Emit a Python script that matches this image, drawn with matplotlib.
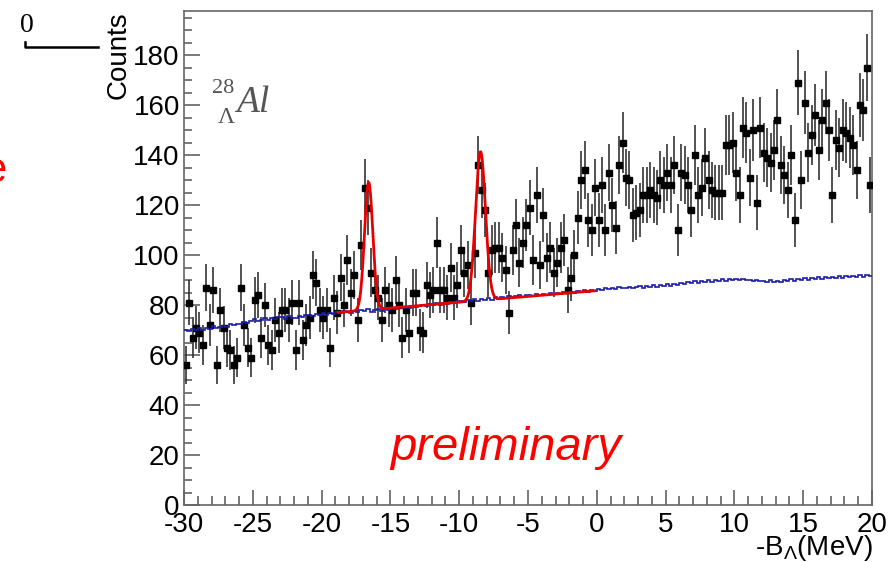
import numpy as np
import matplotlib
matplotlib.use("Agg")
import matplotlib.pyplot as plt
from matplotlib.lines import Line2D
from matplotlib.ticker import MultipleLocator

plt.rcParams['font.family'] = ['Liberation Sans', 'DejaVu Sans']
plt.rcParams['axes.unicode_minus'] = False
plt.rcParams['mathtext.default'] = 'regular'

# histogram: 200 bins of 0.25 MeV from -30 to 20
x_lo, x_hi, bin_w = -30.0, 20.0, 0.25

counts = [
    56, 81, 67, 71, 69, 64, 87, 72, 86, 56, 78, 71, 63, 62, 56, 59, 87, 72, 63, 59,
    82, 84, 67, 80, 64, 62, 74, 69, 78, 78, 74, 81, 62, 81, 66, 72, 75, 92,
    89, 78, 75, 78, 63, 83, 77, 91, 80, 98, 85, 92, 74, 104, 127, 119, 93, 86, 83, 74,
    86, 80, 78, 90, 80, 67, 78, 69, 85, 85, 70, 69, 88, 84, 86, 105, 86, 86, 83, 95,
    83, 88,
    102, 93, 96, 81, 101, 136, 126, 118, 93, 102, 103, 103, 99, 94, 77, 102, 112, 97,
    105, 112, 119, 98, 124, 96, 116, 99, 103, 93, 97, 103, 106, 86, 91, 100, 115, 130,
    134, 114, 110, 127,
    114, 128, 110, 133, 120, 111, 136, 145, 131, 130, 116, 117, 118, 124, 124, 126, 124,
    123, 130, 128, 133, 128, 136, 110, 133, 132, 128, 118, 140, 124, 127, 139, 130, 126,
    125, 125, 125, 144, 144,
    145, 133, 124, 151, 149, 131, 150, 121, 151, 141, 139, 137, 142, 154, 136, 132, 126,
    140, 114, 169, 130, 161, 141, 148, 156, 142, 154, 161, 150, 124, 146, 143, 150, 149,
    147, 144, 134, 160, 158, 175, 128,
]

# blue background histogram (same binning), 4 bins per MeV
background = [
    70.2, 69.6, 70.5, 70.0,  70.8, 70.1, 71.0, 70.4,  71.5, 70.7, 71.3, 71.6,
    71.4, 72.3, 71.9, 72.6,  72.5, 73.4, 72.8, 73.7,  74.4, 73.6, 74.2, 74.8,
    74.1, 75.0, 74.3, 75.2,  75.4, 74.6, 75.5, 74.9,  75.0, 75.7, 75.1, 75.9,
    76.2, 75.5, 76.3, 76.0,  76.8, 76.1, 77.0, 76.6,  77.3, 76.7, 77.5, 77.1,
    77.0, 77.8, 77.2, 78.1,  77.6, 78.3, 77.4, 78.0,  78.4, 77.8, 78.6, 78.2,
    78.9, 78.3, 79.2, 78.7,  79.4, 78.8, 79.6, 79.1,  79.8, 80.2, 79.5, 80.4,
    80.0, 80.7, 80.2, 81.0,  80.6, 81.3, 80.9, 81.5,  81.8, 81.1, 82.0, 81.6,
    82.3, 81.7, 82.6, 82.1,  82.8, 82.2, 83.1, 82.6,  83.3, 82.8, 83.6, 83.1,
    83.5, 84.0, 83.4, 84.2,  84.0, 83.6, 84.4, 84.1,  84.6, 84.1, 84.8, 84.3,
    85.0, 84.5, 85.2, 84.8,  85.4, 85.0, 85.7, 85.2,  85.9, 85.4, 86.2, 85.8,
    86.6, 86.0, 86.8, 86.3,  87.0, 86.5, 87.2, 86.7,  86.9, 87.4, 86.8, 87.3,
    87.6, 87.0, 87.8, 87.2,  87.9, 87.3, 88.1, 87.6,  88.4, 87.8, 88.6, 88.0,
    89.0, 88.4, 89.2, 88.7,  89.5, 89.0, 89.8, 89.3,  89.9, 89.3, 90.2, 89.7,
    90.3, 89.8, 90.5, 90.0,  90.6, 90.0, 90.4, 89.9,  90.2, 89.6, 90.1, 89.5,
    89.8, 89.2, 89.9, 89.4,  89.7, 89.1, 89.9, 89.6,  90.3, 89.8, 90.5, 90.0,
    90.8, 90.2, 90.9, 90.4,  91.1, 90.5, 91.2, 90.7,  91.3, 90.8, 91.5, 91.0,
    91.6, 91.1, 91.8, 91.3,  91.9, 91.4, 92.0, 91.6,
]

# fit: linear background + two gaussian peaks over the fit range
fit_range = (-18.8, -0.15)
bg_at_lo, bg_slope = 77.0, 0.466
peak_mu = [-16.58, -8.45]
peak_amp = [51.0, 59.5]
peak_sigma = [0.30, 0.36]

counts = np.array(counts, dtype=float)
background = np.array(background)
edges = np.arange(x_lo, x_hi + bin_w / 2, bin_w)
centers = edges[:-1] + bin_w / 2
errors = np.sqrt(counts)

fig = plt.figure(figsize=(8.95, 5.62), dpi=100)
ax = fig.add_axes([184 / 895, 1 - 505 / 562, 688 / 895, 494 / 562])

ax.errorbar(centers, counts, yerr=errors, fmt='s', ms=5, mfc='black', mec='black',
            ecolor='#333333', elinewidth=1.2, capsize=0, zorder=3)

ax.stairs(background, edges, baseline=None, color='#1c1ca8', lw=1.2, zorder=4)

xf = np.linspace(fit_range[0], fit_range[1], 800)
yf = bg_at_lo + bg_slope * (xf - fit_range[0])
for mu, a, s in zip(peak_mu, peak_amp, peak_sigma):
    yf = yf + a * np.exp(-0.5 * ((xf - mu) / s) ** 2)
ax.plot(xf, yf, color='#e60000', lw=2.0, zorder=5)

ax.set_xlim(x_lo, x_hi)
ax.set_ylim(0, 197.6)
ax.xaxis.set_major_locator(MultipleLocator(5))
ax.xaxis.set_minor_locator(MultipleLocator(1))
ax.yaxis.set_major_locator(MultipleLocator(20))
ax.yaxis.set_minor_locator(MultipleLocator(5))
ax.tick_params(axis='x', which='major', direction='in', length=11, width=1.1,
               color='#555555', labelsize=20, pad=5)
ax.tick_params(axis='x', which='minor', direction='in', length=6.5, width=1.1,
               color='#555555')
ax.tick_params(axis='y', which='major', direction='in', length=11.5, width=1.1,
               color='#555555', labelsize=20, pad=3)
ax.tick_params(axis='y', which='minor', direction='in', length=6, width=1.1,
               color='#555555')
for sp in ax.spines.values():
    sp.set_color('#666666')
    sp.set_linewidth(1.2)

ax.text(-6.6, 23, 'preliminary', color='red', fontsize=34, style='italic',
        ha='center', va='center')

# hypernucleus label
lab_col = '#555555'
fig.text(236 / 895, 1 - 112 / 562, 'Al', family='Liberation Serif', style='italic',
         fontsize=27, color=lab_col, ha='left', va='baseline')
fig.text(234 / 895, 1 - 93 / 562, '28', family='Liberation Serif',
         fontsize=16, color=lab_col, ha='right', va='baseline')
fig.text(235 / 895, 1 - 123 / 562, 'Λ', family='Liberation Serif',
         fontsize=17, color=lab_col, ha='right', va='baseline')

fig.text(119 / 895, 1 - 11 / 562, 'Counts', fontsize=20, rotation=90,
         ha='center', va='top')
fig.text(873 / 895, 1 - 555 / 562, r'-B$_{\mathregular{Λ}}$(MeV)', fontsize=20,
         ha='right', va='baseline')

# remnants of neighbouring slide content
fig.text(27 / 895, 1 - 26 / 562, '0', family='Liberation Serif', fontsize=20,
         ha='center', va='center')
fig.add_artist(Line2D([25 / 895, 25 / 895, 98 / 895],
                      [1 - 42 / 562, 1 - 47 / 562, 1 - 47 / 562],
                      transform=fig.transFigure, color='black', lw=1.8))
fig.text(6 / 895, 1 - 171 / 562, 'e', color='red', fontsize=30,
         ha='right', va='center')

fig.savefig('out.png', dpi=100)
